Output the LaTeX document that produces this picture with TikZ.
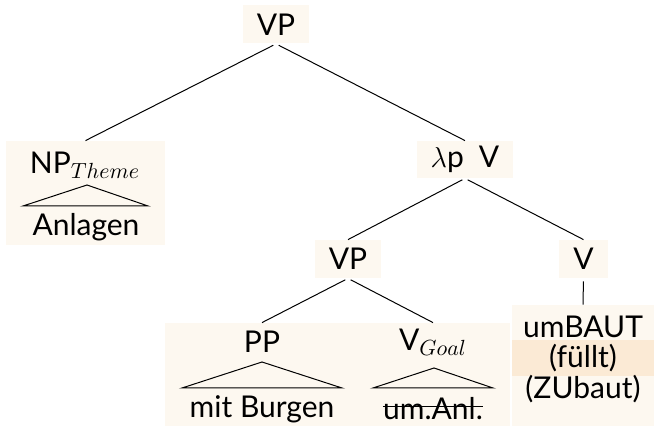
\documentclass[tikz,border=0pt]{standalone}
\usepackage{fontspec}
\setmainfont{Lato}
\definecolor{treebg}{HTML}{FDF8F0}
\definecolor{hilite}{HTML}{FBEAD5}
\tikzset{
  bgbox/.style={fill=treebg, inner sep=0pt},
  lab/.style={inner sep=0pt, font=\fontsize{15}{17}\selectfont},
  branch/.style={line width=0.5pt, shorten <=1.5pt},
}
\begin{document}
\begin{tikzpicture}[x=0.5pt, y=-0.5pt]
\useasboundingbox (0,0) rectangle (654,426);
% shaded boxes
\node [bgbox, minimum width=79.5pt, minimum height=52pt] (npbox) at (85.5,193) {};
\node [bgbox, minimum width=172.5pt, minimum height=51.5pt] (lowbox) at (337.5,374.5) {};
\node [bgbox, minimum width=71pt, minimum height=60.5pt] (rbox) at (583,365.5) {};
\node [inner sep=0pt, fill=hilite, minimum width=71pt, minimum height=18pt] (fbox) at (583,358) {};

% tree labels
\node [bgbox, lab, minimum width=33pt, minimum height=19pt] (vp) at (276,24.5) {VP};
\node [lab] (np) at (85,165) {NP$_{Theme}$};
\node [lab] (anl) at (86,227) {Anlagen};
\node [bgbox, lab, minimum width=48pt, minimum height=18.5pt] (lv) at (465,159.5) {$\lambda$p\enspace V};
\node [bgbox, lab, minimum width=33pt, minimum height=19pt] (vp2) at (348,259) {VP};
\node [bgbox, lab, minimum width=24.5pt, minimum height=19pt] (v) at (583.5,259) {V};
\node [lab, minimum height=19pt] (pp) at (262,342) {PP};
\node [lab, minimum height=19pt] (vgoal) at (433,342) {V$_{Goal}$};
\node [lab] (burgen) at (262,409) {mit Burgen};
\node [lab] (uman) at (433,409) {um.Anl.};
\node [lab] (umbaut) at (583,327) {umBAUT};
\node [lab] (fuellt) at (583,358) {(füllt)};
\node [lab] (zubaut) at (583,389) {(ZUbaut)};

% branches
\draw [branch] (vp.south) -- (npbox.north);
\draw [branch] (vp.south) -- (lv.north);
\draw [branch] (lv.south) -- (vp2.north);
\draw [branch] (lv.south) -- (v.north);
\draw [branch] (vp2.south) -- (pp.north);
\draw [branch] (vp2.south) -- (vgoal.north);
\draw [branch] (v.south) -- (rbox.north);

% roofs
\draw [line width=0.5pt] (87,185) -- (23,206) -- (148,206) -- cycle;
\draw [line width=0.5pt] (262,362) -- (182,388) -- (342,388) -- cycle;
\draw [line width=0.5pt] (434,368) -- (373,388) -- (493,388) -- cycle;
% strike-out
\draw [line width=0.5pt] ([yshift=1pt]uman.west) -- ([yshift=1pt]uman.east);
\end{tikzpicture}
\end{document}
